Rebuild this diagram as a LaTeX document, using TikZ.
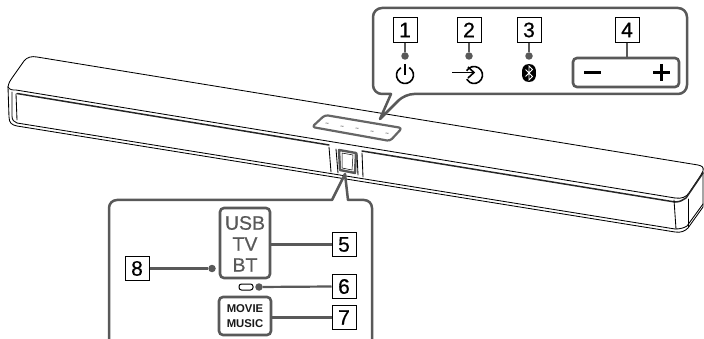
\documentclass[tikz,border=0pt]{standalone}
\usepackage{fontspec}
\setmainfont{Liberation Sans}
\newfontfamily\digitfont[FakeBold=0.6]{Liberation Sans}
\newfontfamily\keyfont[FakeBold=0.5]{Liberation Sans}
\tikzset{
  bar/.style={draw=black,line width=0.85pt,line join=round,line cap=round},
  barthick/.style={draw=black!85,line width=1.5pt,line cap=round},
  callout/.style={draw=black!65,line width=2.5pt,fill=white,line join=round},
  numbox/.style={draw=black,line width=1pt,fill=white,minimum width=24pt,minimum height=24.5pt,inner sep=0pt,font=\digitfont\fontsize{21}{21}\selectfont},
  keybox/.style={draw=black!65,line width=2.6pt,rounded corners=4pt,inner sep=0pt},
  leader/.style={draw=black!65,line width=2.2pt},
  dotnode/.style={circle,fill=black!65,inner sep=0pt,minimum size=7.5pt},
  keytext/.style={text=black!65,font=\keyfont\fontsize{19.5}{19.5}\selectfont,inner sep=0pt},
  modetext/.style={font=\fontsize{11.3}{11.3}\bfseries\selectfont,inner sep=0pt,text=black!90},
  icon/.style={draw=black,line width=1.6pt},
  tick/.style={draw=black!55,line width=0.7pt}
}
\begin{document}
\begin{tikzpicture}[x=1pt,y=-1pt]
\useasboundingbox (0,0) rectangle (704,339);
% sound bar body
\draw[bar] (8,87) .. controls (9,82) and (10,81) .. (12,78) -- (24,61) .. controls (27,57) and (32,56) .. (37,57) -- (698,165) .. controls (702,166) and (704,167) .. (703,171) .. controls (702,173) and (701,175) .. (699,178) -- (689,193) .. controls (686,197) and (682,199) .. (675,198);
\draw[bar] (8,87) -- (9,117) .. controls (9,123) and (12,125) .. (17,126) -- (675,232) .. controls (681,233) and (685,231) .. (688,228) -- (703,207) -- (703,172);
\draw[bar] (8,87) .. controls (10,90) and (12,90) .. (16,90) -- (675,198);
\draw[barthick] (17,93.5) -- (329,145) (362,151) -- (675,202) .. controls (680,202) and (683,200) .. (686,198) -- (703,173);
\draw[bar] (12,92) -- (12,116) .. controls (12,120) and (14,122) .. (17,123) -- (675,229) .. controls (680,229) and (684,228) .. (687,226) -- (703,204);
\draw[bar] (16,94) -- (17,120);
\draw[bar] (674,200) -- (676,229);
\draw[bar] (688,199) -- (688,227);
\draw[bar] (329,147) -- (331,172) (336,149) -- (338,173) (357,153) -- (358,175) (362,153) -- (363,177);
% control panel
\draw[draw=black!60,line width=2.2pt,rounded corners=3pt,line join=round] (325,115) -- (402,128) -- (390,141) -- (312,127) -- cycle;
\foreach \px/\py in {327/123,342/126,357/128,372/131,387/133}
  \draw[tick] (\px-1.5,\py) -- (\px+1.5,\py+0.3);
% window in the front
\draw[draw=black!65,line width=2.4pt,line join=round] (339,150) -- (356,153) -- (355,173) -- (340,170) -- cycle;
\draw[black,line width=0.5pt] (342,153) -- (353,155) -- (352,170) -- (342,168) -- cycle;
% upper call-out
\draw[callout,rounded corners=9pt] (380,119) [sharp corners] -- (391,94) [rounded corners=9pt] -- (373,94) -- (373,8) -- (687,8) -- (687,94) -- (405,94) [sharp corners] -- cycle;
% lower call-out
\draw[callout] (109,340) -- (109,208) arc[start angle=180,end angle=270,radius=8] -- (332,200) -- (345,174) -- (348,200) -- (364,200) arc[start angle=270,end angle=360,radius=8] -- (372,340);
% numbered boxes of the upper call-out
\node[numbox] (n1) at (405,30) {1};
\node[numbox] (n2) at (469,30) {2};
\node[numbox] (n3) at (529,30) {3};
\node[numbox] (n4) at (627,30) {4};
\node[dotnode] (d1) at (405,56) {};
\node[dotnode] (d2) at (469,56) {};
\node[dotnode] (d3) at (529,56) {};
\draw[leader] (n1) -- (d1);
\draw[leader] (n2) -- (d2);
\draw[leader] (n3) -- (d3);
\node[keybox,minimum width=106pt,minimum height=29pt] (vol) at (626,72.5) {};
\draw[leader] (n4) -- (n4 |- vol.north);
% icons
\draw[icon] (405,75) ++(-60:8.5) arc[start angle=-60,end angle=240,radius=8.5];
\draw[icon] (405,64) -- (405,75);
\draw[icon] (474,75) ++(-150:8.5) arc[start angle=-150,end angle=150,radius=8.5];
\draw[icon] (452,72.5) -- (473,72.5);
\draw[icon] (468,67) -- (474,72.5) -- (468,78);
\fill[black] (529,64) .. controls (535.5,64) and (536,69) .. (536,73) .. controls (536,77) and (535.5,82) .. (529,82) .. controls (522.5,82) and (522,77) .. (522,73) .. controls (522,69) and (522.5,64) .. (529,64) -- cycle;
\draw[white,line width=0.9pt,line join=miter] (525.5,69.5) -- (532.5,76.5) -- (529,80) -- (529,66) -- (532.5,69.5) -- (525.5,76.5);
\draw[black,line width=3pt] (584,73) -- (601,73);
\draw[black,line width=2.2pt] (653,72.5) -- (670,72.5) (661.5,64) -- (661.5,81);
% lower call-out contents
\node[keybox,minimum width=50pt,minimum height=70pt] (modes) at (245,243) {};
\node[keytext] (usb) at (245,223) {USB};
\node[keytext] (tv) at (245,244) {TV};
\node[keytext] (bt) at (245,265) {BT};
\node[keybox,minimum width=52pt,minimum height=38pt] (sound) at (245,316) {};
\node[modetext] (movie) at (245,308.5) {MOVIE};
\node[modetext] (music) at (245,324) {MUSIC};
\node[draw=black,line width=1pt,rounded corners=2.5pt,minimum width=14pt,minimum height=6pt,inner sep=0pt] (pill) at (246,287) {};
\node[numbox] (n5) at (344,244.5) {5};
\node[numbox] (n6) at (344,286.5) {6};
\node[numbox] (n7) at (344,317.5) {7};
\node[numbox] (n8) at (137,268.5) {8};
\node[dotnode] (d6) at (259,287) {};
\node[dotnode] (d8) at (212,268.5) {};
\draw[leader] (n5.west) -- (modes.east |- n5.west);
\draw[leader] (n6.west) -- (d6);
\draw[leader] (n7.west) -- (sound.east |- n7.west);
\draw[leader] (n8.east) -- (d8);
\end{tikzpicture}
\end{document}
